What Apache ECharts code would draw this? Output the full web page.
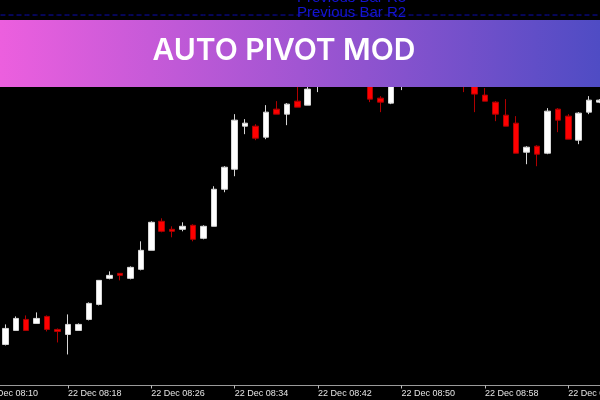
<!DOCTYPE html>
<html>
<head>
<meta charset="utf-8">
<script src="https://cdn.jsdelivr.net/npm/echarts@6/dist/echarts.min.js"></script>
<style>html,body{margin:0;padding:0;background:#000;}#c{width:600px;height:400px;}</style>
</head>
<body>
<div id="c"></div>
<script>
const times = ['22 Dec 08:10','22 Dec 08:11','22 Dec 08:12','22 Dec 08:13','22 Dec 08:14','22 Dec 08:15','22 Dec 08:16','22 Dec 08:17','22 Dec 08:18','22 Dec 08:19',
'22 Dec 08:20','22 Dec 08:21','22 Dec 08:22','22 Dec 08:23','22 Dec 08:24','22 Dec 08:25','22 Dec 08:26','22 Dec 08:27','22 Dec 08:28','22 Dec 08:29',
'22 Dec 08:30','22 Dec 08:31','22 Dec 08:32','22 Dec 08:33','22 Dec 08:34','22 Dec 08:35','22 Dec 08:36','22 Dec 08:37','22 Dec 08:38','22 Dec 08:39',
'22 Dec 08:40','22 Dec 08:41','22 Dec 08:42','22 Dec 08:43','22 Dec 08:44','22 Dec 08:45','22 Dec 08:46','22 Dec 08:47','22 Dec 08:48','22 Dec 08:49',
'22 Dec 08:50','22 Dec 08:51','22 Dec 08:52','22 Dec 08:53','22 Dec 08:54','22 Dec 08:55','22 Dec 08:56','22 Dec 08:57','22 Dec 08:58','22 Dec 08:59',
'22 Dec 09:00','22 Dec 09:01','22 Dec 09:02','22 Dec 09:03','22 Dec 09:04','22 Dec 09:05','22 Dec 09:06','22 Dec 09:07','22 Dec 09:08','22 Dec 09:09'];

const opens  = [null,null,
1.08041,1.08055,1.08066,1.08062,1.08069,1.08056,1.08051,1.08055,1.08066,1.08081,
1.08107,1.08112,1.08107,1.08116,1.08135,1.08164,1.08156,1.08156,1.08160,1.08147,
1.08159,1.08196,1.08216,1.08259,1.08259,1.08248,1.08276,1.08271,1.08284,1.08280,
1.08301,1.08321,1.08337,1.08327,1.08345,1.08325,1.08287,1.08282,1.08315,1.08335,
1.08321,1.08343,1.08327,1.08347,1.08327,1.08307,1.08290,1.08283,1.08270,1.08262,
1.08233,1.08239,1.08232,1.08276,1.08269,1.08245,1.08273,1.08283];
const closes = [null,null,
1.08057,1.08067,1.08055,1.08067,1.08056,1.08054,1.08061,1.08061,1.08082,1.08105,
1.08110,1.08110,1.08118,1.08135,1.08163,1.08154,1.08154,1.08159,1.08146,1.08159,
1.08196,1.08218,1.08265,1.08262,1.08247,1.08273,1.08271,1.08281,1.08278,1.08296,
1.08323,1.08337,1.08327,1.08345,1.08330,1.08286,1.08283,1.08321,1.08335,1.08323,
1.08343,1.08329,1.08347,1.08325,1.08307,1.08291,1.08284,1.08271,1.08259,1.08232,
1.08238,1.08231,1.08274,1.08265,1.08246,1.08272,1.08285,1.08285];
const lows   = [null,null,
1.08040,1.08055,1.08055,1.08062,1.08054,1.08043,1.08031,1.08055,1.08065,1.08080,
1.08106,1.08105,1.08106,1.08115,1.08135,1.08153,1.08148,1.08154,1.08144,1.08146,
1.08159,1.08193,1.08209,1.08251,1.08245,1.08246,1.08271,1.08260,1.08278,1.08280,
1.08293,1.08317,1.08323,1.08325,1.08325,1.08283,1.08273,1.08281,1.08295,1.08319,
1.08317,1.08325,1.08323,1.08321,1.08293,1.08273,1.08284,1.08264,1.08259,1.08232,
1.08221,1.08219,1.08231,1.08253,1.08246,1.08241,1.08271,1.08282];
const highs  = [null,null,
1.08061,1.08069,1.08070,1.08073,1.08070,1.08057,1.08071,1.08062,1.08083,1.08105,
1.08114,1.08112,1.08119,1.08144,1.08164,1.08167,1.08159,1.08163,1.08161,1.08160,
1.08199,1.08219,1.08271,1.08266,1.08261,1.08280,1.08284,1.08282,1.08299,1.08299,
1.08327,1.08341,1.08340,1.08351,1.08349,1.08329,1.08289,1.08325,1.08339,1.08341,
1.08347,1.08349,1.08355,1.08351,1.08333,1.08311,1.08297,1.08284,1.08286,1.08269,
1.08239,1.08240,1.08277,1.08277,1.08271,1.08273,1.08289,1.08286];

const pivotR2 = 1.08370;
const priceMin = 1.08000, priceMax = 1.08385;

const bannerTitle = 'AUTO PIVOT MOD';
const r2Label = 'Previous Bar R2';
const r3Label = 'Previous Bar R3';

const candles = times.map((t, i) => opens[i] == null ? '-' : [opens[i], closes[i], lows[i], highs[i]]);
const r2Line = times.map(() => pivotR2);

const chart = echarts.init(document.getElementById('c'), null, {renderer: 'canvas'});
chart.setOption({
  backgroundColor: '#000000',
  animation: false,
  grid: {left: -20.7, right: -4.8, top: 0, bottom: 14.5, containLabel: false, outerBoundsMode: 'none'},
  xAxis: {
    type: 'category',
    data: times,
    boundaryGap: true,
    axisLine: {show: true, lineStyle: {color: '#9a9a9a', width: 1}},
    axisTick: {show: true, alignWithLabel: true, interval: 7, length: 3, lineStyle: {color: '#bdbdbd'}},
    axisLabel: {show: true, interval: 7, align: 'left', margin: 4, color: '#e4e4e4',
      fontFamily: 'Liberation Sans', fontSize: 9, hideOverlap: false},
    splitLine: {show: false}
  },
  yAxis: {
    type: 'value', min: priceMin, max: priceMax, scale: true,
    axisLine: {show: false}, axisTick: {show: false}, axisLabel: {show: false}, splitLine: {show: false}
  },
  series: [{
    type: 'line',
    data: r2Line,
    symbol: 'none',
    silent: true,
    z: 1,
    lineStyle: {color: '#0c0cae', type: [5, 3], width: 1}
  }, {
    type: 'candlestick',
    data: candles,
    barWidth: 6,
    itemStyle: {
      color: '#ffffff', color0: '#ff0000',
      borderColor: '#d6d6d6', borderColor0: '#b00000', borderWidth: 1
    }
  }],
  graphic: [
    {type: 'text', z: 50, left: 297, top: -10,
      style: {text: r3Label, fill: '#1414d2', font: '15px "Liberation Sans"'}},
    {type: 'text', z: 50, left: 297, top: 5,
      style: {text: r2Label, fill: '#1414d2', font: '15px "Liberation Sans"'}},
    {type: 'rect', z: 100, shape: {x: 0, y: 20, width: 600, height: 67},
      style: {fill: {type: 'linear', x: 0, y: 0, x2: 1, y2: 0, colorStops: [
        {offset: 0, color: '#ec5fde'}, {offset: 0.5, color: '#a155d2'}, {offset: 1, color: '#4f4cc4'}]}}},
    {type: 'text', z: 101, x: 284, y: 51,
      style: {text: bannerTitle, fill: '#ffffff', font: '600 30px Inter', align: 'center', verticalAlign: 'middle'}}
  ]
});
</script>
</body>
</html>
